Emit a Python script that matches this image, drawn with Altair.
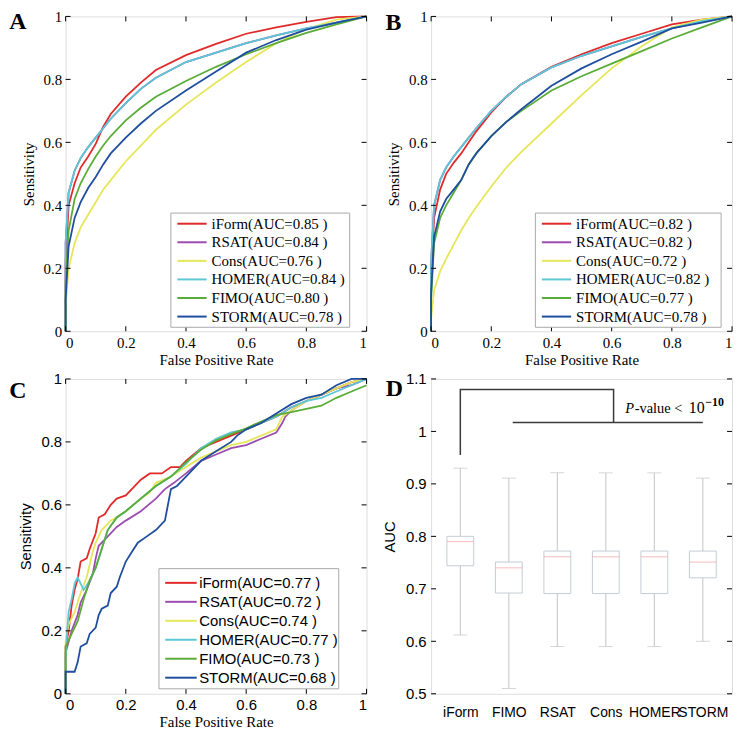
import json
import altair as alt
import pandas as pd

# ---------------- data ----------------
methods = ["iForm", "RSAT", "Cons", "HOMER", "FIMO", "STORM"]
colors = ["#e02a2a", "#9c4cb0", "#e6e65a", "#5cc8d6", "#5aac38", "#1f4e9e"]

auc_A = ["0.85", "0.84", "0.76", "0.84", "0.80", "0.78"]
auc_B = ["0.82", "0.82", "0.72", "0.82", "0.77", "0.78"]
auc_C = ["0.77", "0.72", "0.74", "0.77", "0.73", "0.68"]

fpr_grid = [0, 0, 0.01, 0.03, 0.05, 0.075, 0.1, 0.125, 0.15, 0.2, 0.25, 0.3,
            0.4, 0.5, 0.6, 0.7, 0.8, 0.9, 1.0]

A_iForm = [0, 0.22, 0.40, 0.47, 0.52, 0.555, 0.595, 0.65, 0.69, 0.745, 0.79, 0.83,
           0.877, 0.913, 0.945, 0.965, 0.983, 0.998, 1.0]
A_RSAT = [0, 0.28, 0.44, 0.51, 0.55, 0.585, 0.615, 0.645, 0.675, 0.725, 0.77, 0.805,
          0.855, 0.885, 0.915, 0.94, 0.962, 0.98, 1.0]
A_Cons = [0, 0.08, 0.20, 0.28, 0.33, 0.37, 0.41, 0.45, 0.48, 0.54, 0.59, 0.64,
          0.72, 0.79, 0.855, 0.915, 0.96, 0.99, 1.0]
A_HOMER = [0, 0.28, 0.44, 0.51, 0.55, 0.585, 0.615, 0.645, 0.675, 0.725, 0.77, 0.805,
           0.855, 0.885, 0.915, 0.94, 0.962, 0.98, 1.0]
A_FIMO = [0, 0.15, 0.32, 0.42, 0.47, 0.515, 0.555, 0.59, 0.62, 0.67, 0.71, 0.745,
          0.795, 0.84, 0.88, 0.915, 0.948, 0.975, 1.0]
A_STORM = [0, 0.10, 0.27, 0.36, 0.41, 0.455, 0.49, 0.53, 0.565, 0.615, 0.66, 0.70,
           0.765, 0.825, 0.885, 0.925, 0.958, 0.98, 1.0]

B_iForm = [0, 0.18, 0.36, 0.45, 0.50, 0.535, 0.565, 0.60, 0.635, 0.695, 0.745, 0.785,
           0.84, 0.88, 0.915, 0.945, 0.975, 0.99, 1.0]
B_RSAT = [0, 0.22, 0.40, 0.48, 0.52, 0.555, 0.585, 0.615, 0.645, 0.70, 0.745, 0.785,
          0.838, 0.875, 0.905, 0.935, 0.962, 0.985, 1.0]
B_Cons = [0, 0.04, 0.13, 0.19, 0.23, 0.275, 0.32, 0.36, 0.395, 0.46, 0.52, 0.57,
          0.66, 0.75, 0.835, 0.905, 0.965, 0.99, 1.0]
B_HOMER = [0, 0.22, 0.40, 0.48, 0.52, 0.555, 0.585, 0.615, 0.645, 0.70, 0.745, 0.785,
           0.838, 0.875, 0.905, 0.935, 0.962, 0.985, 1.0]
B_FIMO = [0, 0.10, 0.28, 0.36, 0.40, 0.44, 0.48, 0.53, 0.565, 0.62, 0.665, 0.70,
          0.765, 0.81, 0.85, 0.89, 0.93, 0.965, 1.0]
B_STORM = [0, 0.12, 0.30, 0.38, 0.42, 0.45, 0.48, 0.53, 0.565, 0.62, 0.665, 0.705,
           0.78, 0.835, 0.88, 0.92, 0.962, 0.98, 1.0]

C_iForm_x = [0, 0, 0.01, 0.02, 0.03, 0.04, 0.05, 0.07, 0.08, 0.10, 0.11, 0.13, 0.15,
             0.17, 0.20, 0.22, 0.25, 0.28, 0.32, 0.35, 0.38, 0.40, 0.45, 0.50, 0.55,
             0.60, 0.65, 0.70, 0.75, 0.80, 0.85, 0.90, 0.95, 1.0]
C_iForm_y = [0, 0.15, 0.20, 0.28, 0.33, 0.365, 0.42, 0.43, 0.46, 0.51, 0.56, 0.57, 0.60,
             0.62, 0.63, 0.65, 0.68, 0.70, 0.70, 0.72, 0.72, 0.74, 0.78, 0.80, 0.82,
             0.84, 0.86, 0.88, 0.91, 0.93, 0.95, 0.97, 0.99, 1.0]
C_RSAT_x = [0, 0, 0.02, 0.04, 0.05, 0.07, 0.09, 0.10, 0.11, 0.13, 0.17, 0.20, 0.25,
            0.30, 0.33, 0.36, 0.40, 0.45, 0.50, 0.55, 0.60, 0.65, 0.70, 0.72, 0.73,
            0.75, 0.80, 0.85, 0.90, 0.95, 1.0]
C_RSAT_y = [0, 0.13, 0.20, 0.25, 0.29, 0.33, 0.38, 0.43, 0.47, 0.49, 0.53, 0.55, 0.58,
            0.62, 0.65, 0.67, 0.70, 0.74, 0.76, 0.78, 0.79, 0.81, 0.83, 0.86, 0.88,
            0.90, 0.93, 0.95, 0.97, 0.98, 1.0]
C_Cons_x = [0, 0, 0.01, 0.03, 0.05, 0.07, 0.09, 0.10, 0.12, 0.15, 0.20, 0.25, 0.28,
            0.30, 0.35, 0.40, 0.45, 0.50, 0.55, 0.60, 0.65, 0.70, 0.72, 0.75, 0.80,
            0.85, 0.90, 0.95, 1.0]
C_Cons_y = [0, 0.17, 0.22, 0.26, 0.32, 0.37, 0.45, 0.48, 0.52, 0.55, 0.58, 0.62, 0.64,
            0.67, 0.69, 0.72, 0.75, 0.77, 0.79, 0.80, 0.82, 0.84, 0.88, 0.90, 0.93,
            0.95, 0.97, 0.99, 1.0]
C_HOMER_x = [0, 0, 0.005, 0.01, 0.02, 0.03, 0.04, 0.06, 0.08, 0.10, 0.12, 0.14, 0.17,
             0.20, 0.25, 0.30, 0.35, 0.40, 0.45, 0.50, 0.55, 0.60, 0.65, 0.70, 0.75,
             0.80, 0.85, 0.90, 0.95, 1.0]
C_HOMER_y = [0, 0.10, 0.20, 0.26, 0.30, 0.35, 0.37, 0.33, 0.36, 0.40, 0.46, 0.52, 0.56,
             0.58, 0.62, 0.66, 0.69, 0.73, 0.78, 0.81, 0.83, 0.84, 0.86, 0.88, 0.91,
             0.93, 0.94, 0.96, 0.98, 1.0]
C_FIMO_x = [0, 0, 0.02, 0.04, 0.06, 0.08, 0.10, 0.12, 0.14, 0.17, 0.20, 0.25, 0.30,
            0.35, 0.40, 0.45, 0.50, 0.55, 0.60, 0.65, 0.70, 0.75, 0.80, 0.85, 0.90,
            0.95, 1.0]
C_FIMO_y = [0, 0.15, 0.19, 0.23, 0.30, 0.36, 0.40, 0.46, 0.52, 0.56, 0.58, 0.62, 0.66,
            0.69, 0.735, 0.775, 0.805, 0.825, 0.843, 0.865, 0.885, 0.895, 0.905, 0.915,
            0.94, 0.96, 0.98]
C_STORM_x = [0, 0, 0.03, 0.04, 0.05, 0.07, 0.08, 0.10, 0.11, 0.12, 0.14, 0.15, 0.17,
             0.18, 0.20, 0.22, 0.24, 0.27, 0.30, 0.33, 0.34, 0.35, 0.37, 0.38, 0.40,
             0.45, 0.50, 0.55, 0.57, 0.60, 0.65, 0.70, 0.75, 0.80, 0.85, 0.90, 0.95, 1.0]
C_STORM_y = [0, 0.07, 0.07, 0.10, 0.15, 0.16, 0.19, 0.21, 0.25, 0.27, 0.28, 0.32, 0.34,
             0.37, 0.42, 0.45, 0.48, 0.50, 0.52, 0.55, 0.60, 0.65, 0.66, 0.67, 0.69,
             0.74, 0.77, 0.80, 0.82, 0.84, 0.86, 0.89, 0.92, 0.94, 0.95, 0.98, 1.0, 1.0]

roc_ticks = [0, 0.2, 0.4, 0.6, 0.8, 1.0]

box_methods = ["iForm", "FIMO", "RSAT", "Cons", "HOMER", "STORM"]
box_pos = [1, 2, 3, 4, 5, 6]
box_low = [0.612, 0.51, 0.59, 0.59, 0.59, 0.60]
box_q1 = [0.744, 0.692, 0.691, 0.691, 0.691, 0.721]
box_median = [0.79, 0.74, 0.761, 0.761, 0.761, 0.751]
box_q3 = [0.80, 0.751, 0.772, 0.772, 0.772, 0.772]
box_high = [0.93, 0.911, 0.921, 0.921, 0.921, 0.911]
auc_ticks = [0.5, 0.6, 0.7, 0.8, 0.9, 1.0, 1.1]

bracket_x = [1.0, 1.0, 4.16, 4.16]
bracket_y = [0.955, 1.08, 1.08, 1.017]
bar2_x = [2.08, 6.0]
bar2_y = [1.017, 1.017]
pval_x = 4.40
pval_y = 1.035

# ---------------- layout constants ----------------
W, H = 303, 317
SERIF = "Liberation Serif"
SANS = "Liberation Sans"


def curves_df(series, aucs):
    rows = []
    for m, c, auc, (xs, ys) in zip(methods, colors, aucs, series):
        lab = f"{m}(AUC={auc} )"
        for i, (x, y) in enumerate(zip(xs, ys)):
            rows.append(dict(method=m, label=lab, color=c, fpr=x, tpr=y, idx=i))
    return pd.DataFrame(rows)


def inward_ticks(values, xenc, yenc, tlen=5, do_x=True):
    tdf = pd.DataFrame({"t": values})
    base = alt.Chart(tdf).mark_rule(color="black", strokeWidth=1)
    out = []
    if do_x:
        out += [base.encode(x=xenc, y=alt.value(H), y2=alt.value(H - tlen)),
                base.encode(x=xenc, y=alt.value(0), y2=alt.value(tlen))]
    out += [base.encode(y=yenc, x=alt.value(0), x2=alt.value(tlen)),
            base.encode(y=yenc, x=alt.value(W), x2=alt.value(W - tlen))]
    return out


def letter_layer(letter, dx, dy):
    return alt.Chart(alt.Data(values=[{}])).mark_text(
        text=letter, font=SERIF, fontSize=24, fontWeight="bold",
        align="center", baseline="middle", color="black"
    ).encode(x=alt.value(dx), y=alt.value(dy))


def legend_layers(aucs, font, lx, lw, lh, gap_bottom, first, step, sw0, sw1, tx):
    ly = H - gap_bottom - lh
    ldf = pd.DataFrame({"label": [f"{m}(AUC={a} )" for m, a in zip(methods, aucs)],
                        "color": colors, "i": list(range(len(methods)))})
    frame = alt.Chart(alt.Data(values=[{}])).mark_rect(
        fill="white", stroke="#a8a8a8", strokeWidth=1
    ).encode(x=alt.value(lx), x2=alt.value(lx + lw), y=alt.value(ly), y2=alt.value(ly + lh))
    base = alt.Chart(ldf).transform_calculate(yy=f"{ly + first} + datum.i * {step}")
    sw = base.mark_rule(strokeWidth=2).encode(
        x=alt.value(lx + sw0), x2=alt.value(lx + sw1),
        y=alt.Y("yy:Q", scale=None), color=alt.Color("color:N", scale=None))
    tx_ = base.mark_text(font=font, fontSize=15, align="left", baseline="middle",
                         color="black").encode(
        x=alt.value(lx + tx), y=alt.Y("yy:Q", scale=None), text="label:N")
    return [frame, sw, tx_]


def roc_panel(df, aucs, letter, tick_font, ytitle_font, xtitle_font, leg, let_dx, let_dy):
    xscale = alt.Scale(domain=[0, 1], nice=False, zero=False)
    yscale = alt.Scale(domain=[0, 1], nice=False, zero=False)
    xaxis = alt.Axis(values=roc_ticks, format="~g", ticks=False, domain=False, grid=False,
                     labelFont=tick_font, labelFontSize=15, labelColor="black",
                     labelPadding=4, titleFont=xtitle_font, titleFontSize=15,
                     titleFontWeight="normal", titleColor="black", titlePadding=2)
    yaxis = alt.Axis(values=roc_ticks, format="~g", ticks=False, domain=False, grid=False,
                     labelFont=tick_font, labelFontSize=15, labelColor="black",
                     labelPadding=4, titleFont=ytitle_font, titleFontSize=15,
                     titleFontWeight="normal", titleColor="black", titlePadding=7)
    layers = []
    for m in methods:
        layers.append(
            alt.Chart(df).transform_filter(alt.datum.method == m)
            .mark_line(strokeWidth=1.8)
            .encode(x=alt.X("fpr:Q", scale=xscale, axis=xaxis, title="False Positive Rate"),
                    y=alt.Y("tpr:Q", scale=yscale, axis=yaxis, title="Sensitivity"),
                    color=alt.Color("color:N", scale=None), order="idx:Q")
        )
    layers += inward_ticks(
        roc_ticks,
        alt.X("t:Q", scale=xscale, axis=xaxis, title="False Positive Rate"),
        alt.Y("t:Q", scale=yscale, axis=yaxis, title="Sensitivity"))
    layers += legend_layers(aucs, **leg)
    layers.append(letter_layer(letter, let_dx, let_dy))
    return alt.layer(*layers).properties(width=W, height=H)


dfA = curves_df([(fpr_grid, A_iForm), (fpr_grid, A_RSAT), (fpr_grid, A_Cons),
                 (fpr_grid, A_HOMER), (fpr_grid, A_FIMO), (fpr_grid, A_STORM)], auc_A)
dfB = curves_df([(fpr_grid, B_iForm), (fpr_grid, B_RSAT), (fpr_grid, B_Cons),
                 (fpr_grid, B_HOMER), (fpr_grid, B_FIMO), (fpr_grid, B_STORM)], auc_B)
dfC = curves_df([(C_iForm_x, C_iForm_y), (C_RSAT_x, C_RSAT_y), (C_Cons_x, C_Cons_y),
                 (C_HOMER_x, C_HOMER_y), (C_FIMO_x, C_FIMO_y), (C_STORM_x, C_STORM_y)],
                auc_C)

legA = dict(font=SERIF, lx=106, lw=180, lh=115, gap_bottom=4, first=10.7, step=18.7,
            sw0=6.5, sw1=36, tx=41)
legB = dict(font=SERIF, lx=105, lw=187, lh=115, gap_bottom=4, first=10.7, step=18.7,
            sw0=6.5, sw1=36, tx=41)
legC = dict(font=SANS, lx=94, lw=181, lh=121, gap_bottom=5, first=14.3, step=19.1,
            sw0=6.3, sw1=38, tx=40.5)

panelA = roc_panel(dfA, auc_A, "A", SERIF, SERIF, SERIF, legA, -48, 6)
panelB = roc_panel(dfB, auc_B, "B", SERIF, SERIF, SERIF, legB, -38, 7)
panelC = roc_panel(dfC, auc_C, "C", SANS, SANS, SERIF, legC, -48, 12)

# ---------------- panel D ----------------
box_df = pd.DataFrame({"method": box_methods, "pos": box_pos, "low": box_low,
                       "q1": box_q1, "median": box_median, "q3": box_q3,
                       "high": box_high})
dx_scale = alt.Scale(domain=[0.5, 6.5], nice=False, zero=False)
dy_scale = alt.Scale(domain=[0.5, 1.1], nice=False, zero=False)
label_expr = json.dumps(box_methods) + "[datum.value - 1]"
dxaxis = alt.Axis(values=box_pos, labelExpr=label_expr, ticks=False, domain=False,
                  grid=False, labelFont=SANS, labelFontSize=14, labelColor="black",
                  labelPadding=12, labelOverlap=False, title=None)
dyaxis = alt.Axis(values=auc_ticks, format="~g", ticks=False, domain=False, grid=False,
                  labelFont=SANS, labelFontSize=15, labelColor="black", labelPadding=5,
                  titleFont=SANS, titleFontSize=15, titleFontWeight="normal",
                  titleColor="black", titlePadding=8)


def dX(f="pos"):
    return alt.X(f"{f}:Q", scale=dx_scale, axis=dxaxis, title=None)


def dY(f):
    return alt.Y(f"{f}:Q", scale=dy_scale, axis=dyaxis, title="AUC")


dbase = alt.Chart(box_df)
whisker = dbase.mark_rule(color="#c4c4c4", strokeWidth=1).encode(x=dX(), y=dY("low"), y2="high:Q")
cap_lo = dbase.mark_tick(orient="horizontal", size=14, thickness=1, color="#c4c4c4").encode(x=dX(), y=dY("low"))
cap_hi = dbase.mark_tick(orient="horizontal", size=14, thickness=1, color="#c4c4c4").encode(x=dX(), y=dY("high"))
box = dbase.mark_bar(size=27, fill="white", stroke="#c6cbd6", strokeWidth=1).encode(
    x=dX(), y=dY("q1"), y2="q3:Q")
med = dbase.mark_tick(orient="horizontal", size=27, thickness=1, color="#eea0a0").encode(
    x=dX(), y=dY("median"))

br_df = pd.DataFrame({"x": bracket_x + bar2_x, "y": bracket_y + bar2_y,
                      "seg": ["a"] * 4 + ["b"] * 2,
                      "i": list(range(4)) + list(range(2))})
bracket = alt.Chart(br_df).mark_line(color="#3a3a3a", strokeWidth=1.5).encode(
    x=dX("x"), y=dY("y"), detail="seg:N", order="i:Q")

pv_df = pd.DataFrame({"x": [pval_x], "y": [pval_y]})
pv_base = alt.Chart(pv_df)
pv1 = pv_base.mark_text(text="P", font=SERIF, fontStyle="italic", fontSize=14.5,
                        align="left", baseline="alphabetic", color="black").encode(x=dX("x"), y=dY("y"))
pv2 = pv_base.mark_text(text="-value <", font=SERIF, fontSize=14.5, align="left",
                        baseline="alphabetic", color="black", dx=9.5).encode(x=dX("x"), y=dY("y"))
pv3 = pv_base.mark_text(text="10", font=SERIF, fontSize=16, align="left",
                        baseline="alphabetic", color="black", dx=64).encode(x=dX("x"), y=dY("y"))
pv4 = pv_base.mark_text(text="\u221210", font=SERIF, fontSize=12, fontWeight="bold",
                        align="left", baseline="alphabetic", color="black",
                        dx=80.5, dy=-7).encode(x=dX("x"), y=dY("y"))

d_tick_layers = inward_ticks(auc_ticks, None, dY("t"), do_x=False)

panelD = alt.layer(whisker, cap_lo, cap_hi, box, med, bracket, pv1, pv2, pv3, pv4,
                   *d_tick_layers, letter_layer("D", -37, 10)).properties(width=W, height=H)

chart = alt.concat(panelA, panelB, panelC, panelD, columns=2,
                   spacing={"row": 48, "column": 65}, bounds="flush").properties(
    padding={"left": 0, "top": -2, "right": 0, "bottom": 0}
).configure_view(stroke="black", strokeWidth=1.5).configure(background="white")

chart.save("out.html", embed_options={"renderer": "svg", "actions": False})
